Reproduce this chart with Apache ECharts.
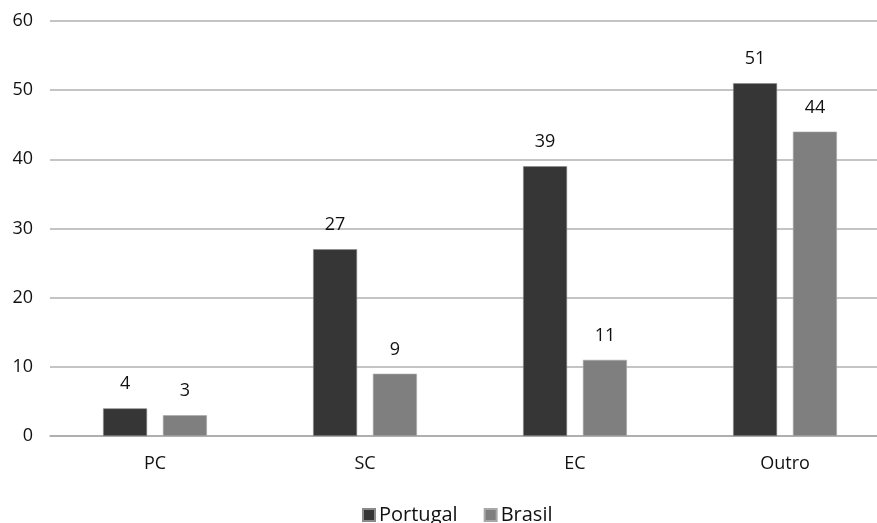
<!DOCTYPE html>
<html>
<head>
<meta charset="utf-8">
<script src="https://cdn.jsdelivr.net/npm/echarts@6/dist/echarts.min.js"></script>
<style>
  html, body { margin: 0; padding: 0; background: #fff; overflow: hidden; }
  #chart { width: 890px; height: 523px; }
</style>
</head>
<body>
<div id="chart"></div>
<script>
// Categories and values per country
const categories = ['PC', 'SC', 'EC', 'Outro'];
const portugal = [4, 27, 39, 51];
const brasil = [3, 9, 11, 44];
const yTicks = { min: 0, max: 60, interval: 10 };

const font = '"Open Sans", "Noto Sans", sans-serif';
const chart = echarts.init(document.getElementById('chart'));

const labelStyle = {
  show: true,
  position: 'top',
  distance: 15,
  color: '#111',
  fontSize: 18,
  fontFamily: font
};

chart.setOption({
  animation: false,
  textStyle: { fontFamily: font },
  grid: { left: 50, top: 21, right: 0, height: 415, containLabel: false },
  legend: {
    bottom: -7,
    left: 357,
    itemWidth: 12,
    itemHeight: 12,
    itemGap: 26,
    icon: 'rect',
    textStyle: { fontSize: 20, color: '#111', fontFamily: font, padding: [0, 0, 0, -1] },
    data: ['Portugal', 'Brasil']
  },
  xAxis: {
    type: 'category',
    data: categories,
    axisLine: { lineStyle: { color: '#a8a8a8', width: 1.5 } },
    axisTick: { show: false },
    axisLabel: { color: '#111', fontSize: 18, margin: 19, fontFamily: font }
  },
  yAxis: {
    type: 'value',
    min: yTicks.min,
    max: yTicks.max,
    interval: yTicks.interval,
    axisLine: { show: false },
    axisTick: { show: false },
    splitLine: { lineStyle: { color: '#b0b0b0', width: 1.5 } },
    axisLabel: { color: '#111', fontSize: 18, margin: 17, fontFamily: font }
  },
  series: [
    {
      name: 'Portugal',
      type: 'bar',
      data: portugal,
      barWidth: 44,
      barGap: '36%',
      itemStyle: { color: '#363636', borderColor: '#8a8a8a', borderWidth: 0.6 },
      label: labelStyle
    },
    {
      name: 'Brasil',
      type: 'bar',
      data: brasil,
      barWidth: 44,
      itemStyle: { color: '#7f7f7f', borderColor: '#a8a8a8', borderWidth: 0.6 },
      label: labelStyle
    }
  ]
});
</script>
</body>
</html>
